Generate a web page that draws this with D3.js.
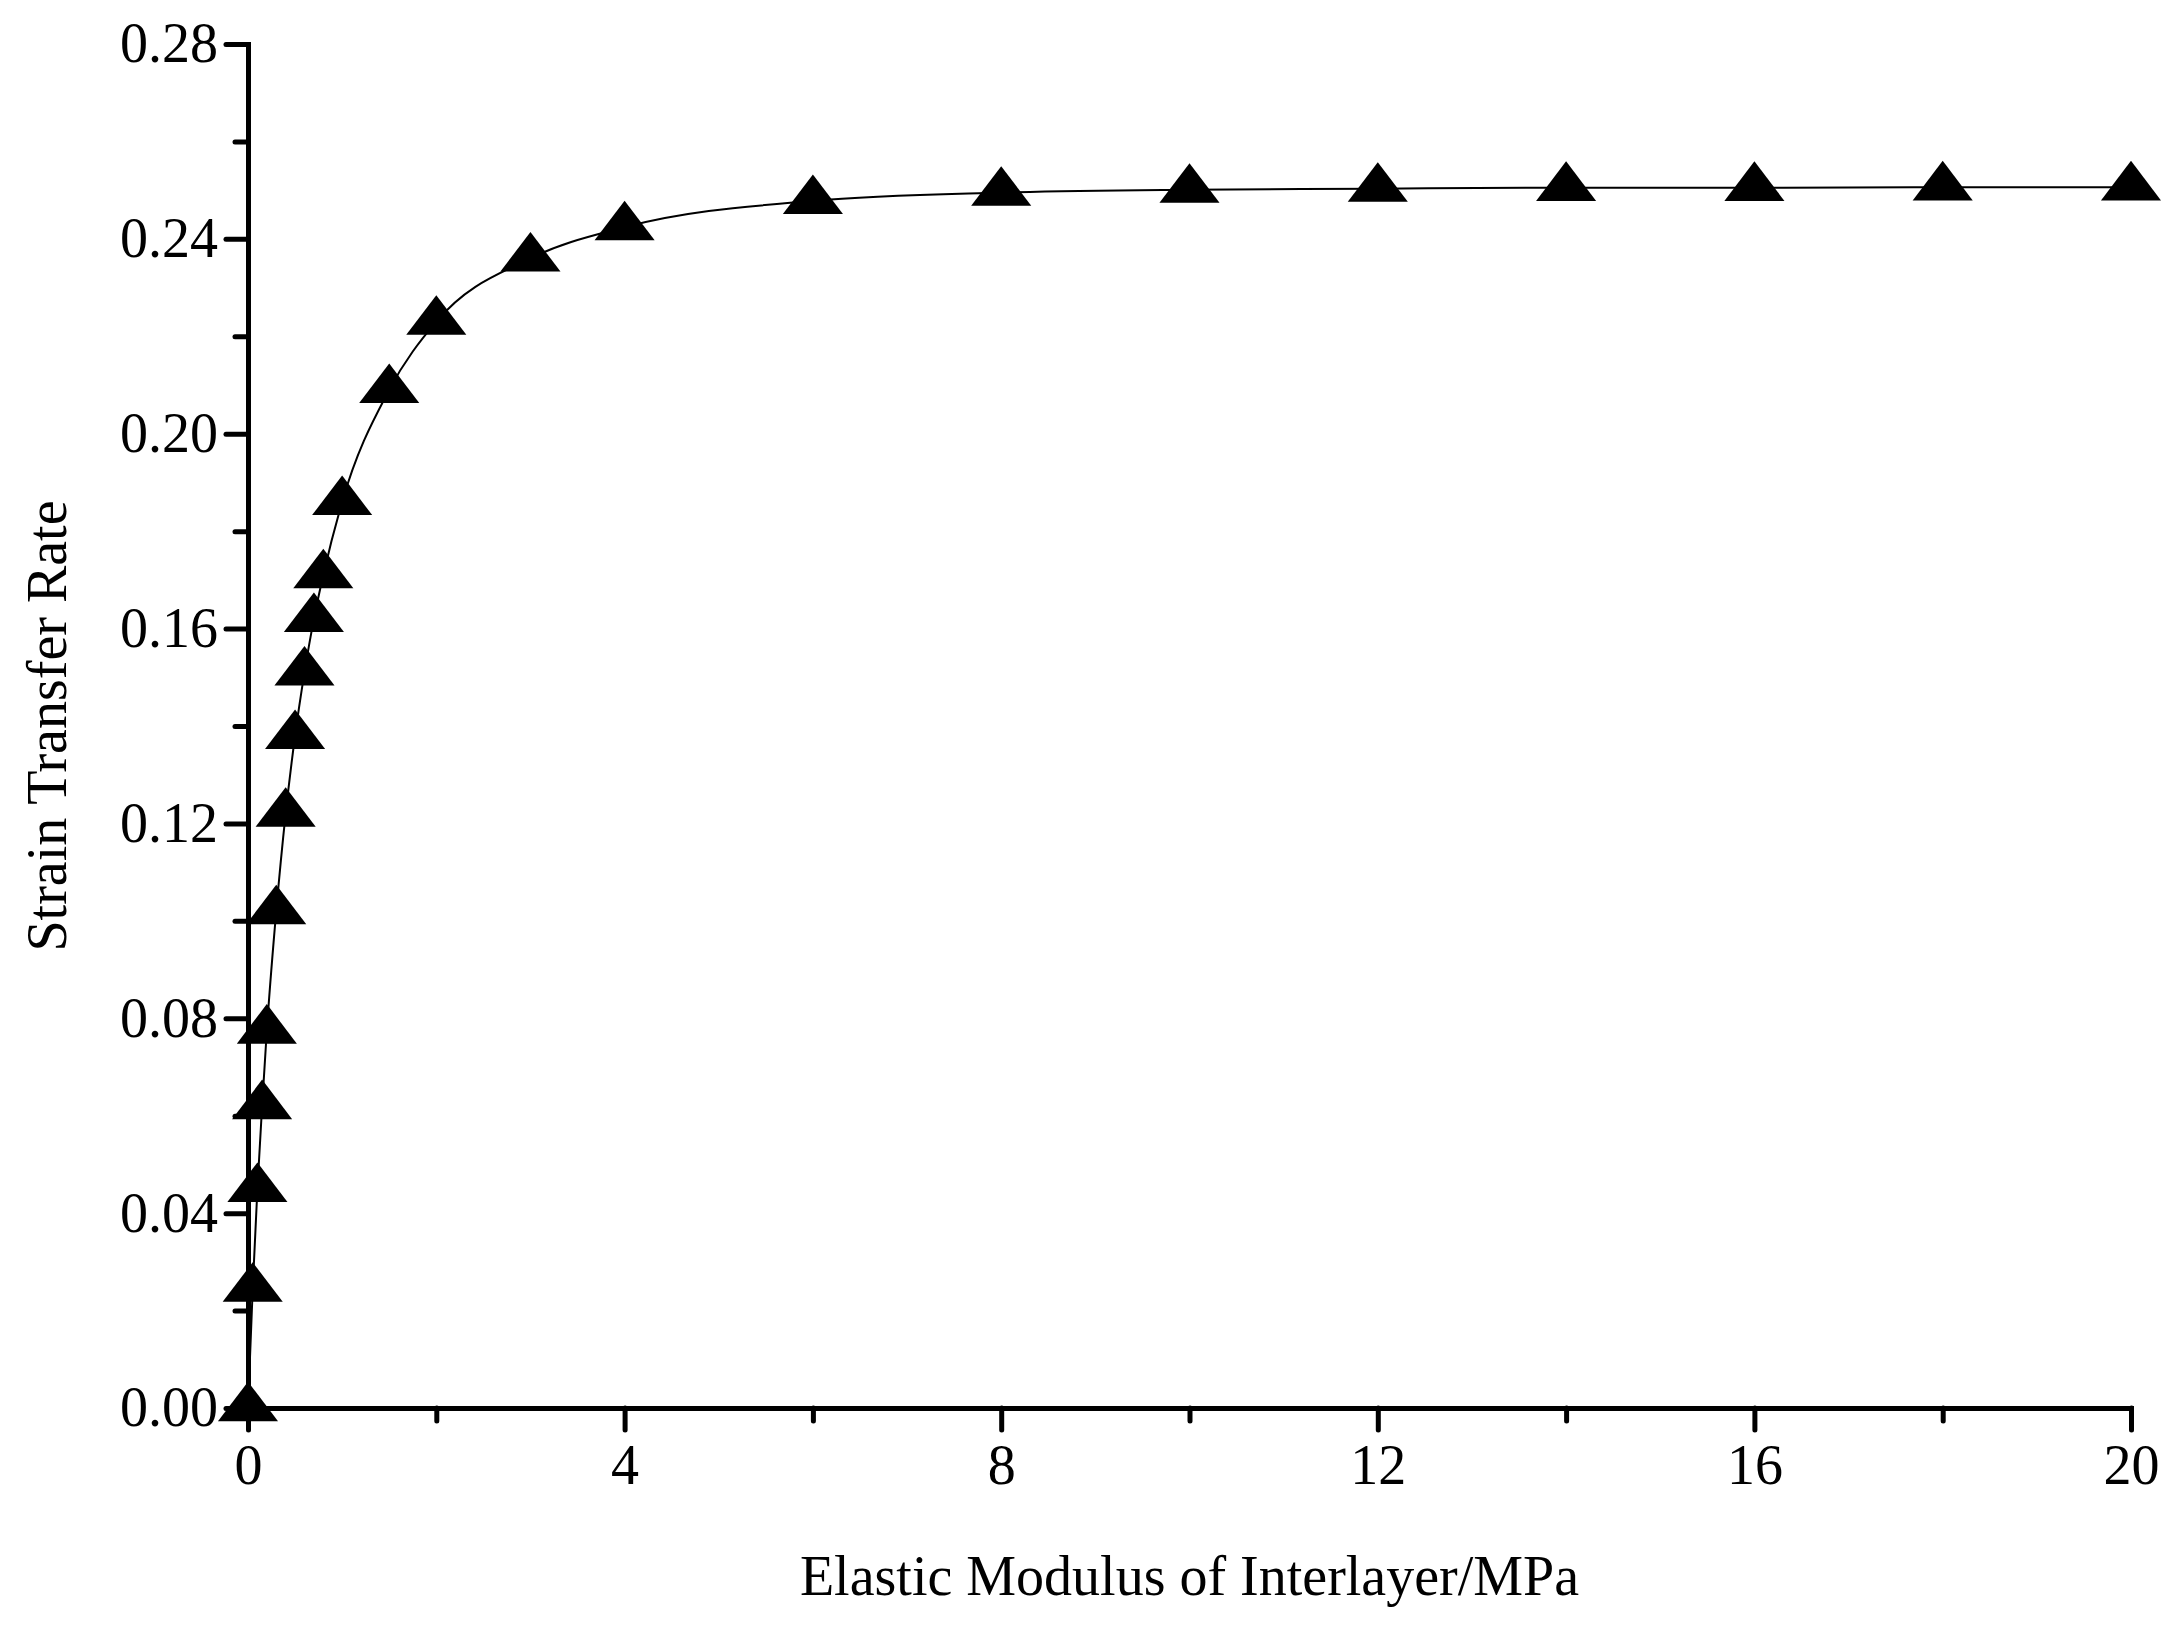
<!DOCTYPE html>
<html><head><meta charset="utf-8">
<script src="https://cdn.jsdelivr.net/npm/d3@7"></script>
<style>body{margin:0;background:#fff}svg{display:block}</style>
</head><body><div id="chart"></div>
<script>
// values
var modulus = [0, 0.05, 0.1, 0.15, 0.2, 0.3, 0.4, 0.5, 0.6, 0.7, 0.8, 1, 1.5, 2, 3, 4, 6, 8, 10, 12, 14, 16, 18, 20]
var transferRate = [0, 0.0245, 0.045, 0.062, 0.0775, 0.102, 0.122, 0.138, 0.151, 0.162, 0.171, 0.186,
  0.209, 0.223, 0.236, 0.2424, 0.2478, 0.2495, 0.2501, 0.2503, 0.2505, 0.2505, 0.2506, 0.2506]
var xTicks = [0, 4, 8, 12, 16, 20]
var yTicks = [0, 0.04, 0.08, 0.12, 0.16, 0.20, 0.24, 0.28]

var W = 2177, H = 1627
var m = {left: 248, right: 2131, top: 44, bottom: 1408}
var font = 'Liberation Serif, Times New Roman, serif'

var svg = d3.select('#chart').append('svg').attr('width', W).attr('height', H)

var x = d3.scaleLinear().domain([0, 20]).range([m.left, m.right])
var y = d3.scaleLinear().domain([0, 0.28]).range([m.bottom, m.top])

var xAxis = svg.append('g').attr('transform', 'translate(0,' + m.bottom + ')')
  .call(d3.axisBottom(x).tickValues(xTicks).tickFormat(d3.format('d')).tickSize(22).tickPadding(14))
var xMinor = svg.append('g').attr('transform', 'translate(0,' + m.bottom + ')')
  .call(d3.axisBottom(x).tickValues(d3.range(2, 20, 4)).tickFormat('').tickSize(13))

var yAxis = svg.append('g').attr('transform', 'translate(' + m.left + ',0)')
  .call(d3.axisLeft(y).tickValues(yTicks).tickFormat(d3.format('.2f')).tickSize(22).tickPadding(8))
var yMinor = svg.append('g').attr('transform', 'translate(' + m.left + ',0)')
  .call(d3.axisLeft(y).tickValues(d3.range(0.02, 0.28, 0.04)).tickFormat('').tickSize(13))

svg.selectAll('.domain').attr('stroke', '#000').attr('stroke-width', 5)
xMinor.select('.domain').remove()
yMinor.select('.domain').remove()
svg.selectAll('.tick line').attr('stroke', '#000').attr('stroke-width', 5).attr('stroke-linecap', 'round')
svg.selectAll('.tick text').attr('font-family', font).attr('font-size', 56).attr('fill', '#000')

var line = d3.line()
  .x(function(d, i) { return x(modulus[i]) })
  .y(function(d) { return y(d) })
  .curve(d3.curveMonotoneX)

svg.append('path').datum(transferRate).attr('d', line)
  .attr('fill', 'none').attr('stroke', '#000').attr('stroke-width', 2)

var tri = d3.symbol().type(d3.symbolTriangle).size(1000)
svg.selectAll('path.mark').data(transferRate).enter().append('path')
  .attr('class', 'mark')
  .attr('d', tri)
  .attr('transform', function(d, i) { return 'translate(' + x(modulus[i]) + ',' + y(d) + ') scale(1.25,0.95)' })
  .attr('fill', '#000')

svg.append('text').attr('x', (m.left + m.right) / 2).attr('y', 1595)
  .attr('text-anchor', 'middle').attr('font-family', font).attr('font-size', 56)
  .text('Elastic Modulus of Interlayer/MPa')

svg.append('text').attr('transform', 'translate(66,' + (m.top + m.bottom) / 2 + ') rotate(-90)')
  .attr('text-anchor', 'middle').attr('font-family', font).attr('font-size', 56)
  .text('Strain Transfer Rate')
</script></body></html>
